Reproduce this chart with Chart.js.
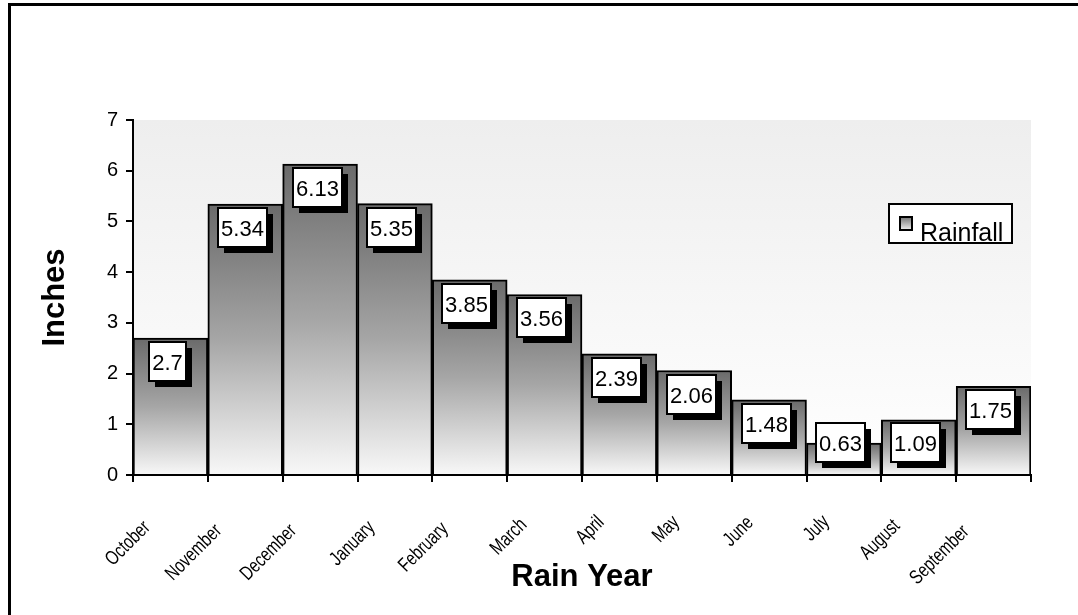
<!DOCTYPE html>
<html>
<head>
<meta charset="utf-8">
<script src="https://cdn.jsdelivr.net/npm/chart.js@4"></script>
<style>
    html, body { margin: 0; padding: 0; background: #fff; }
    #wrap { position: relative; width: 1078px; height: 615px; }
</style>
</head>
<body>
<div id="wrap"><canvas id="rainChart"></canvas></div>
<script>
// Rain year chart

const months = ['October', 'November', 'December', 'January', 'February', 'March',
    'April', 'May', 'June', 'July', 'August', 'September'];
const rainfall = [2.7, 5.34, 6.13, 5.35, 3.85, 3.56, 2.39, 2.06, 1.48, 0.63, 1.09, 1.75];
const seriesName = 'Rainfall';
const yTicks = [0, 1, 2, 3, 4, 5, 6, 7];

const FONT = '"Liberation Sans", Arial, sans-serif';

function barGradient(context) {
    const chart = context.chart;
    if (!chart.chartArea || context.type !== 'data') {
        return '#999';
    }
    const y = chart.scales.y;
    const top = y.getPixelForValue(context.raw);
    const bottom = y.getPixelForValue(0);
    const g = chart.ctx.createLinearGradient(0, top, 0, bottom);
    g.addColorStop(0, '#6a6a6a');
    g.addColorStop(0.5, '#a6a6a6');
    g.addColorStop(1, '#f8f8f8');
    return g;
}

// plot background + outer frame
const backgroundPlugin = {
    id: 'plotBackground',
    beforeDraw(chart) {
        const ctx = chart.ctx;
        const a = chart.chartArea;
        ctx.save();
        const g = ctx.createLinearGradient(0, a.top, 0, a.bottom);
        g.addColorStop(0, '#eeeeee');
        g.addColorStop(1, '#ffffff');
        ctx.fillStyle = g;
        ctx.fillRect(a.left, a.top, a.right - a.left, a.bottom - a.top);

        ctx.strokeStyle = '#000';
        ctx.lineWidth = 3;
        ctx.beginPath();
        ctx.moveTo(9.5, chart.height + 5);
        ctx.lineTo(9.5, 4.5);
        ctx.lineTo(chart.width + 5, 4.5);
        ctx.stroke();
        ctx.restore();
    }
};

// month labels: slanted, slightly condensed like the original
const monthLabelPlugin = {
    id: 'monthLabels',
    afterDraw(chart) {
        const ctx = chart.ctx;
        const x = chart.scales.x;
        const axisY = chart.scales.y.getPixelForValue(0);
        const squeeze = 0.76;
        ctx.save();
        ctx.font = '20px ' + FONT;
        ctx.fillStyle = '#000';
        ctx.textAlign = 'right';
        ctx.textBaseline = 'top';
        months.forEach((m, i) => {
            const w = ctx.measureText(m).width * squeeze;
            const d = 0.21 * w;
            const px = x.getPixelForTick(i) - 19 - d;
            const py = axisY + 31 + d;
            ctx.save();
            ctx.translate(px, py);
            ctx.rotate(-Math.PI / 4);
            ctx.scale(squeeze, 1);
            ctx.fillText(m, 0, 0);
            ctx.restore();
        });
        ctx.restore();
    }
};

// value boxes with drop shadow
const valueBoxPlugin = {
    id: 'valueBoxes',
    afterDatasetsDraw(chart) {
        const ctx = chart.ctx;
        const meta = chart.getDatasetMeta(0);
        const axisY = chart.scales.y.getPixelForValue(0);
        ctx.save();
        ctx.font = '22px ' + FONT;
        meta.data.forEach((bar, i) => {
            const text = String(rainfall[i]);
            const w = Math.round(ctx.measureText(text).width) + 6;
            const h = 39;
            const x0 = Math.round(bar.x - w / 2 - 3);
            const y0 = Math.round(Math.min(bar.y + 4, axisY - 52));
            ctx.fillStyle = '#000';
            ctx.fillRect(x0 + 6, y0 + 6, w, h);
            ctx.fillStyle = '#fff';
            ctx.fillRect(x0, y0, w, h);
            ctx.strokeStyle = '#000';
            ctx.lineWidth = 2;
            ctx.strokeRect(x0, y0, w, h);
            ctx.fillStyle = '#000';
            ctx.textAlign = 'center';
            ctx.textBaseline = 'middle';
            ctx.fillText(text, x0 + w / 2, y0 + h / 2 + 2);
        });
        ctx.restore();
    }
};

// boxed legend inside the plot
const legendBoxPlugin = {
    id: 'legendBox',
    afterDraw(chart) {
        const ctx = chart.ctx;
        ctx.save();
        ctx.fillStyle = '#fff';
        ctx.fillRect(889, 204, 123, 39);
        ctx.strokeStyle = '#000';
        ctx.lineWidth = 2;
        ctx.strokeRect(889, 204, 123, 39);

        const g = ctx.createLinearGradient(0, 216, 0, 231);
        g.addColorStop(0, '#6a6a6a');
        g.addColorStop(1, '#f8f8f8');
        ctx.fillStyle = g;
        ctx.fillRect(900, 217, 12, 13);
        ctx.strokeRect(900, 217, 12, 13);

        ctx.fillStyle = '#000';
        ctx.font = '25px ' + FONT;
        ctx.textAlign = 'left';
        ctx.textBaseline = 'alphabetic';
        ctx.fillText(chart.data.datasets[0].label, 920, 241);
        ctx.restore();
    }
};

function createRainChart() {
    const ctx = document.getElementById('rainChart');
    if (ctx) {
        new Chart(ctx, {
            type: 'bar',
            data: {
                labels: months,
                datasets: [{
                    label: seriesName,
                    data: rainfall,
                    backgroundColor: barGradient,
                    borderColor: '#000',
                    borderWidth: 2,
                    barPercentage: 1,
                    categoryPercentage: 1
                }]
            },
            options: {
                responsive: true,
                maintainAspectRatio: false,
                animation: false,
                layout: {
                    padding: { left: 8, top: 120, right: 47, bottom: 0 }
                },
                plugins: {
                    legend: { display: false },
                    tooltip: { enabled: false }
                },
                scales: {
                    x: {
                        afterFit(scale) { scale.height = 140; },
                        grid: {
                            offset: true,
                            drawOnChartArea: false,
                            tickLength: 7,
                            color: '#000',
                            lineWidth: 2
                        },
                        border: { color: '#000', width: 2 },
                        ticks: {
                            autoSkip: false,
                            minRotation: 45,
                            maxRotation: 45,
                            color: 'rgba(0,0,0,0)',
                            font: { family: FONT, size: 16 }
                        },
                        title: {
                            display: true,
                            text: 'Rain Year',
                            color: '#000',
                            font: { family: FONT, size: 31, weight: 'bold' },
                            padding: { top: 0, bottom: 19 }
                        }
                    },
                    y: {
                        min: 0,
                        max: 7,
                        afterFit(scale) { scale.width = 125; },
                        afterBuildTicks(scale) {
                            scale.ticks = yTicks.map(v => ({ value: v }));
                        },
                        grid: {
                            drawOnChartArea: false,
                            tickLength: 7,
                            color: '#000',
                            lineWidth: 2
                        },
                        border: { color: '#000', width: 2 },
                        ticks: {
                            padding: 8,
                            color: '#000',
                            font: { family: FONT, size: 20 }
                        },
                        title: {
                            display: true,
                            text: 'Inches',
                            color: '#000',
                            font: { family: FONT, size: 31, weight: 'bold' },
                            padding: { top: 29, bottom: 0 }
                        }
                    }
                }
            },
            plugins: [backgroundPlugin, valueBoxPlugin, legendBoxPlugin, monthLabelPlugin]
        });
    }
}

document.addEventListener('DOMContentLoaded', function() {
    createRainChart();
});
</script>
</body>
</html>
